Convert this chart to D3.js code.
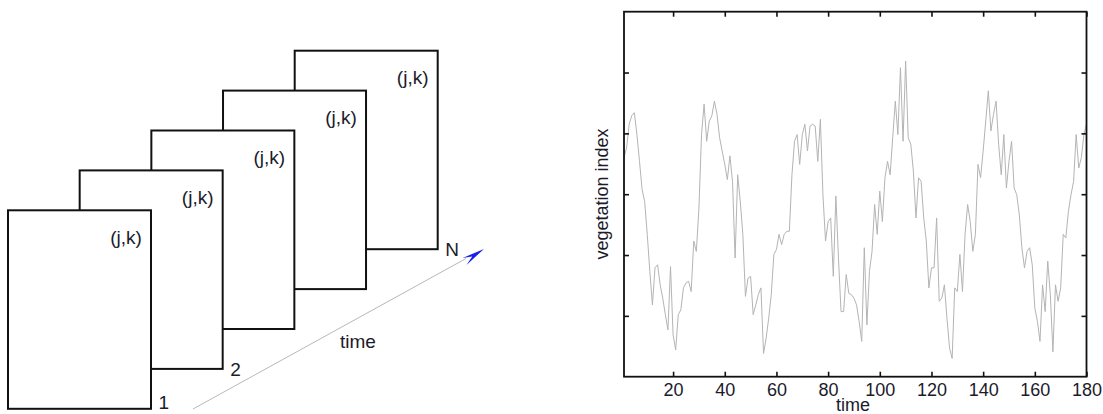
<!DOCTYPE html>
<html>
<head>
<meta charset="utf-8">
<script src="https://cdn.jsdelivr.net/npm/d3@7"></script>
<style>
  html, body { margin: 0; padding: 0; background: #fff; }
  svg { display: block; font-family: "Liberation Sans", Arial, sans-serif; }
</style>
</head>
<body>
<svg id="fig" width="1103" height="414"></svg>
<script>
// ---- Left panel: stack of image frames along time ----
const frameIds = [1, 2, 3, 4, 5];
const frameCornerLabels = ["1", "2", "", "", "N"];
const pixelLabel = "(j,k)";
const timeAxisLabel = "time";

// ---- Right panel: vegetation index time series for one pixel ----
const timeSteps = d3.range(1, 181);
const vegIndex = [
  0.360, 0.376, 0.415, 0.429, 0.434, 0.398, 0.354, 0.308, 0.288, 0.234,
  0.173, 0.118, 0.179, 0.184, 0.151, 0.129, 0.102, 0.077, 0.181, 0.069,
  0.044, 0.102, 0.110, 0.146, 0.154, 0.157, 0.140, 0.223, 0.206, 0.277,
  0.398, 0.448, 0.387, 0.420, 0.429, 0.453, 0.431, 0.393, 0.371, 0.349,
  0.324, 0.363, 0.321, 0.195, 0.332, 0.288, 0.234, 0.132, 0.162, 0.165,
  0.102, 0.118, 0.135, 0.146, 0.038, 0.063, 0.096, 0.135, 0.201, 0.209,
  0.234, 0.217, 0.234, 0.239, 0.239, 0.332, 0.387, 0.398, 0.349, 0.398,
  0.415, 0.371, 0.412, 0.415, 0.412, 0.354, 0.423, 0.299, 0.223, 0.255,
  0.261, 0.165, 0.297, 0.195, 0.107, 0.107, 0.168, 0.137, 0.135, 0.129,
  0.118, 0.091, 0.058, 0.212, 0.085, 0.173, 0.206, 0.283, 0.234, 0.305,
  0.255, 0.327, 0.354, 0.332, 0.393, 0.453, 0.398, 0.508, 0.387, 0.519,
  0.393, 0.382, 0.338, 0.261, 0.327, 0.321, 0.261, 0.223, 0.146, 0.179,
  0.179, 0.261, 0.124, 0.129, 0.151, 0.096, 0.047, 0.030, 0.146, 0.140,
  0.201, 0.140, 0.234, 0.283, 0.255, 0.206, 0.234, 0.349, 0.327, 0.371,
  0.420, 0.470, 0.404, 0.431, 0.453, 0.382, 0.332, 0.398, 0.310, 0.354,
  0.387, 0.310, 0.299, 0.266, 0.212, 0.179, 0.206, 0.212, 0.184, 0.113,
  0.091, 0.058, 0.151, 0.107, 0.190, 0.135, 0.041, 0.151, 0.124, 0.146,
  0.234, 0.228, 0.272, 0.299, 0.321, 0.398, 0.343, 0.360, 0.398, 0.415
];
const xTickValues = [20, 40, 60, 80, 100, 120, 140, 160, 180];
const yTickValues = [0.1, 0.2, 0.3, 0.4, 0.5];
const xLabel = "time";
const yLabel = "vegetation index";

const svg = d3.select("#fig");
const ink = "#1b1b2b";

// ===== Stacked frames =====
const fw = 143, fh = 198.5;
// position along the stack -> offset in x and y
const stackX = d3.scaleLinear().domain([1, 5]).range([8, 294.7]);
const stackY = d3.scaleLinear().domain([1, 5]).range([210.3, 50.7]);

const left = svg.append("g");

// time axis line with arrowhead (drawn under the frames)
const tStart = [193, 409], tEnd = [466, 258.5], tip = [484, 249];
left.append("line")
  .attr("x1", tStart[0]).attr("y1", tStart[1])
  .attr("x2", tEnd[0]).attr("y2", tEnd[1])
  .attr("stroke", "#b8b8b8").attr("stroke-width", 1);

{
  const dx = tip[0] - tStart[0], dy = tip[1] - tStart[1];
  const len = Math.hypot(dx, dy);
  const ux = dx / len, uy = dy / len, nx = -uy, ny = ux;
  const bx = tip[0] - 23 * ux, by = tip[1] - 23 * uy;
  const mx = tip[0] - 14 * ux, my = tip[1] - 14 * uy;
  const pts = [
    [tip[0], tip[1]],
    [bx + 5.5 * nx, by + 5.5 * ny],
    [mx + 1 * nx, my + 1 * ny],
    [bx - 2.5 * nx, by - 2.5 * ny]
  ];
  left.append("path")
    .attr("d", "M" + pts.map(p => p.join(",")).join("L") + "Z")
    .attr("fill", "#1a22e6");
}

// frames from back to front so the front ones cover the rest
const frames = left.selectAll("g.frame")
  .data(frameIds.slice().reverse())
  .join("g")
  .attr("class", "frame")
  .attr("transform", d => `translate(${stackX(d)},${stackY(d)})`);

frames.append("rect")
  .attr("width", fw).attr("height", fh)
  .attr("fill", "#fff").attr("stroke", "#111").attr("stroke-width", 2);

frames.append("text")
  .attr("x", 118).attr("y", 33.5)
  .attr("text-anchor", "middle")
  .attr("font-size", 19).attr("fill", ink)
  .text(pixelLabel);

frames.append("text")
  .attr("x", fw + 7.5).attr("y", d => d === 1 ? 409.5 - stackY(1) : fh + 7)
  .attr("font-size", 19).attr("fill", ink)
  .text(d => frameCornerLabels[d - 1]);

left.append("text")
  .attr("x", 358).attr("y", 348)
  .attr("text-anchor", "middle")
  .attr("font-size", 19).attr("fill", ink)
  .text(timeAxisLabel);

// ===== Time series plot =====
const plot = { left: 624, right: 1086.5, top: 11.7, bottom: 376.7 };
const x = d3.scaleLinear().domain([1, 180]).range([plot.left, plot.right]);
const y = d3.scaleLinear().domain([0, 0.6]).range([plot.bottom, plot.top]);

const right = svg.append("g");

right.append("path")
  .datum(vegIndex)
  .attr("fill", "none")
  .attr("stroke", "#b4b4b4")
  .attr("stroke-width", 1)
  .attr("d", d3.line().x((d, i) => x(timeSteps[i])).y(d => y(d)));

function styleAxis(g) {
  g.select(".domain").remove();
  g.selectAll(".tick line").attr("stroke", "#111").attr("stroke-width", 1.6);
  g.selectAll(".tick text").attr("fill", ink).attr("font-size", 18)
    .attr("font-family", "Liberation Sans, Arial, sans-serif");
}

right.append("g")
  .attr("transform", `translate(0,${plot.bottom})`)
  .call(d3.axisBottom(x).tickValues(xTickValues).tickSize(-5).tickPadding(7))
  .call(styleAxis);
right.append("g")
  .attr("transform", `translate(0,${plot.top})`)
  .call(d3.axisTop(x).tickValues(xTickValues).tickSize(-5).tickFormat(""))
  .call(styleAxis);
right.append("g")
  .attr("transform", `translate(${plot.left},0)`)
  .call(d3.axisLeft(y).tickValues(yTickValues).tickSize(-5).tickFormat(""))
  .call(styleAxis);
right.append("g")
  .attr("transform", `translate(${plot.right},0)`)
  .call(d3.axisRight(y).tickValues(yTickValues).tickSize(-5).tickFormat(""))
  .call(styleAxis);

right.append("rect")
  .attr("x", plot.left).attr("y", plot.top)
  .attr("width", plot.right - plot.left).attr("height", plot.bottom - plot.top)
  .attr("fill", "none").attr("stroke", "#111").attr("stroke-width", 1.8);

right.append("text")
  .attr("x", 853).attr("y", 411)
  .attr("text-anchor", "middle")
  .attr("font-size", 18).attr("fill", ink)
  .text(xLabel);

right.append("text")
  .attr("transform", "translate(608,194) rotate(-90)")
  .attr("text-anchor", "middle")
  .attr("font-size", 18).attr("fill", ink)
  .text(yLabel);
</script>
</body>
</html>
